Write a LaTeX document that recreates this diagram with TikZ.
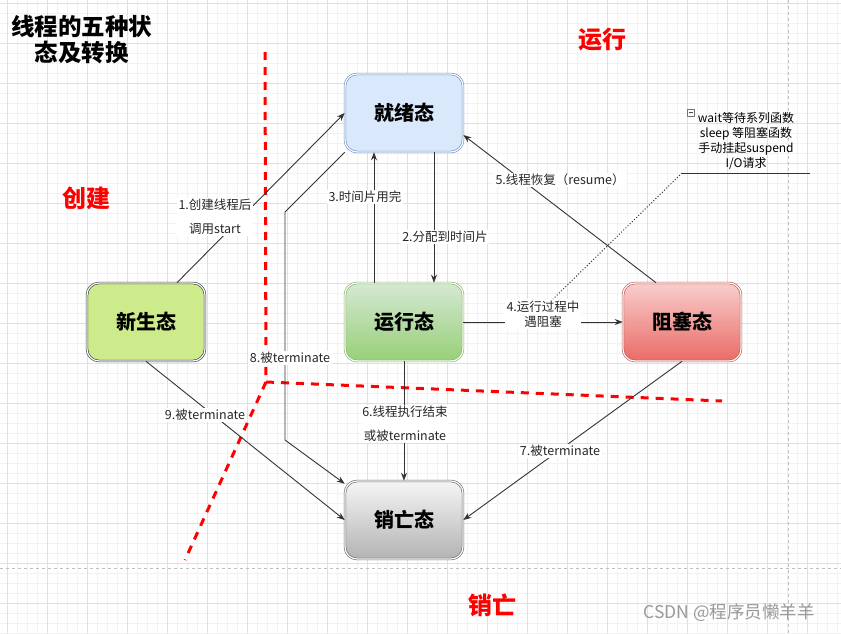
\documentclass[tikz,border=0pt]{standalone}
\usepackage{fontspec}
\setmainfont{Noto Sans CJK SC}
\usetikzlibrary{arrows.meta}
\definecolor{lanbian}{HTML}{6C8EBF}
\definecolor{lantian}{HTML}{DAE8FC}
\definecolor{lvbian}{HTML}{82B366}
\definecolor{lvshang}{HTML}{D5E8D4}
\definecolor{lvxia}{HTML}{97D077}
\definecolor{hongbian}{HTML}{B85450}
\definecolor{hongshang}{HTML}{F8CECC}
\definecolor{hongxia}{HTML}{EA6B66}
\definecolor{huangtian}{HTML}{CDEB8B}
\definecolor{heibian}{HTML}{36393D}
\definecolor{huibian}{HTML}{666666}
\definecolor{huishang}{HTML}{F5F5F5}
\definecolor{huixia}{HTML}{B3B3B3}
\definecolor{xian}{HTML}{333333}
\tikzset{
  zhuangtai/.style={rounded corners=12pt,minimum width=118pt,minimum height=78pt,line width=0.6pt,double=white,double distance=1.2pt,font=\fontsize{20}{24}\selectfont\bfseries},
  biaoqian/.style={fill=white,inner sep=1.5pt,align=center,text=black!85,font=\fontsize{12.5}{15}\selectfont},
  quyu/.style={text=red,font=\fontsize{24}{28}\selectfont\bfseries},
  fenjie/.style={red,line width=3pt,dash pattern=on 8pt off 7pt},
}
\begin{document}
\begin{tikzpicture}[x=1pt,y=-1pt,>={Stealth[length=8pt,width=6pt]},line join=round]
    \useasboundingbox[fill=white] (0,0) rectangle (841,634);
    \foreach \x in {7,17,...,837} \draw[black!5,line width=0.5pt] (\x,0)--(\x,634);
    \foreach \y in {3,13,...,633} \draw[black!5,line width=0.5pt] (0,\y)--(841,\y);
    \foreach \x in {7,47,...,807} \draw[black!12,line width=0.7pt] (\x,0)--(\x,634);
    \foreach \y in {3,43,...,603} \draw[black!12,line width=0.7pt] (0,\y)--(841,\y);
    \draw[black!25,dashed,line width=0.7pt] (788,0)--(788,634) (0,568)--(841,568);
    \draw[fenjie] (265,52)coordinate(g1)--(266,382)coordinate(g0)--(722,401)coordinate(g2) (g0)--(185,560)coordinate(g3);
    \node[font=\fontsize{23.5}{26}\selectfont\bfseries,align=center] (biaoti) at (82,40) {线程的五种状\\态及转换};
    \node[quyu] (chuangjian) at (86,198) {创建};
    \node[quyu] (yunxingqu) at (602,40) {运行};
    \node[quyu] (xiaowangqu) at (492,605) {销亡};
    \node[zhuangtai,draw=lanbian,fill=lantian] (jiuxu) at (404,113) {就绪态};
    \node[zhuangtai,draw=lvbian,top color=lvshang,bottom color=lvxia] (yunxing) at (404,322) {运行态};
    \node[zhuangtai,draw=hongbian,top color=hongshang,bottom color=hongxia] (zuse) at (682,322) {阻塞态};
    \node[zhuangtai,draw=heibian,fill=huangtian] (xinsheng) at (146,322) {新生态};
    \node[zhuangtai,draw=huibian,top color=huishang,bottom color=huixia] (xiaowang) at (404,520) {销亡态};
    \coordinate (k1) at (285,212);
    \coordinate (k2) at (285,440);
    \begin{scope}[xian,line width=0.9pt]
        \draw[->] ([xshift=31pt]xinsheng.north)--(jiuxu.west);
        \draw[->] ([xshift=30pt]jiuxu.south)--([xshift=30pt]yunxing.north);
        \draw[->] ([xshift=-30pt]yunxing.north)--([xshift=-30pt]jiuxu.south);
        \draw[->] (yunxing.east)--(zuse.west);
        \draw[->] ([xshift=-26pt]zuse.north)--([yshift=-22pt]jiuxu.east);
        \draw[->] (yunxing.south)--(xiaowang.north);
        \draw[->] (zuse.south)--(xiaowang.east);
        \draw[->] (jiuxu.south west)--(k1)--(k2)--([yshift=-3pt]xiaowang.north west);
        \draw[->] (xinsheng.south)--(xiaowang.west);
    \end{scope}
    \node[biaoqian] (l1) at (215,217) {1.创建线程后\\[9pt]调用start};
    \node[biaoqian] (l2) at (445,237) {2.分配到时间片};
    \node[biaoqian] (l3) at (365,197) {3.时间片用完};
    \node[biaoqian] (l4) at (543,314) {4.运行过程中\\遇阻塞};
    \node[biaoqian] (l5) at (560,180) {5.线程恢复（resume）};
    \node[biaoqian] (l6) at (405,424) {6.线程执行结束\\[9pt]或被terminate};
    \node[biaoqian] (l7) at (560,451) {7.被terminate};
    \node[biaoqian] (l8) at (290,358) {8.被terminate};
    \node[biaoqian] (l9) at (205,415) {9.被terminate};
    \node[align=center,font=\fontsize{12}{15}\selectfont] (zhushi) at (746,141) {wait等待系列函数\\sleep 等阻塞函数\\手动挂起suspend\\I/O请求};
    \draw[black!55,line width=0.5pt] (687,109) rectangle (694,116);
    \draw[black!70,line width=0.6pt] (688.5,112.5)--(692.5,112.5);
    \draw[xian,line width=0.9pt] (682,173)coordinate(z0)--(810,173);
    \draw[xian,line width=1pt,dotted] (z0)--([xshift=10pt]l4.north);
    \node[text=black!40,font=\fontsize{17.5}{20}\selectfont] (shuiyin) at (729,613) {CSDN @程序员懒羊羊};
\end{tikzpicture}
\end{document}
